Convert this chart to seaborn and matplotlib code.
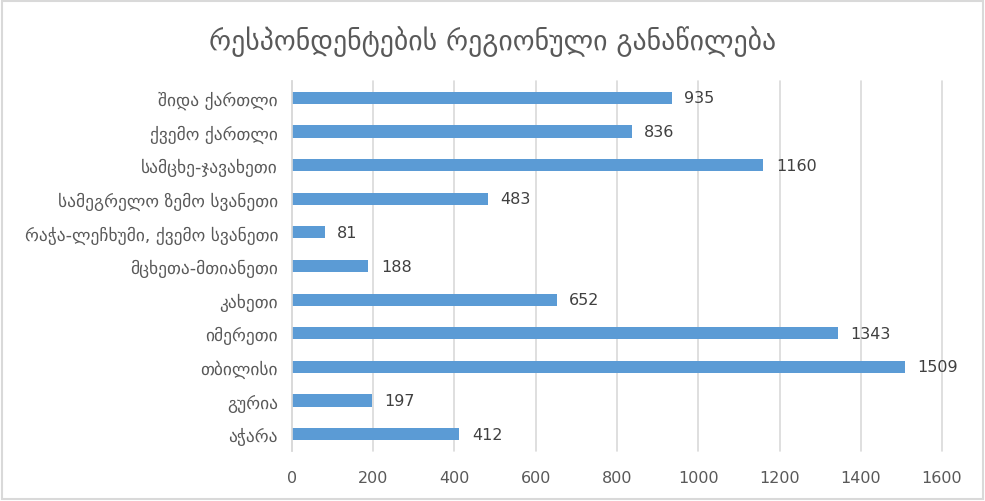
import matplotlib
matplotlib.use("Agg")
import matplotlib.pyplot as plt
import seaborn as sns
import pandas as pd

regions = ["შიდა ქართლი", "ქვემო ქართლი", "სამცხე-ჯავახეთი", "სამეგრელო ზემო სვანეთი",
           "რაჭა-ლეჩხუმი, ქვემო სვანეთი", "მცხეთა-მთიანეთი", "კახეთი", "იმერეთი",
           "თბილისი", "გურია", "აჭარა"]
counts = [935, 836, 1160, 483, 81, 188, 652, 1343, 1509, 197, 412]
xticks = [0, 200, 400, 600, 800, 1000, 1200, 1400, 1600]
title = "რესპონდენტების რეგიონული განაწილება"

sns.set_style("white")
plt.rcParams['font.family'] = ['DejaVu Sans']

df = pd.DataFrame({"region": regions, "count": counts})

fig = plt.figure(figsize=(9.85, 5.02), dpi=100)
ax = fig.add_axes([0.2964, 0.0996, 0.6600, 0.737])
sns.barplot(data=df, x="count", y="region", color="#5B9BD5", width=0.36, ax=ax,
            saturation=1, linewidth=0, edgecolor="none")

ax.set_xlim(0, 1600)
ax.set_xticks(xticks)
ax.set_xticklabels([str(t) for t in xticks])
ax.set_xlabel("")
ax.set_ylabel("")
ax.xaxis.grid(True, color="#D9D9D9", linewidth=1.2)
for gl in ax.get_xgridlines():
    gl.set_clip_on(False)
ax.set_axisbelow(True)
for s in ["top", "right", "bottom"]:
    ax.spines[s].set_visible(False)
ax.spines["left"].set_color("#D9D9D9")
ax.spines["left"].set_linewidth(1.2)
ax.tick_params(axis="y", length=0, labelsize=12.5, colors="#595959", pad=10)
ax.tick_params(axis="x", length=0, labelsize=11.5, colors="#595959", pad=14)

for i, v in enumerate(counts):
    ax.annotate(str(v), xy=(v, i), xytext=(9, 0), textcoords="offset points",
                va="center", ha="left", fontsize=11.5, color="#404040")

fig.text(0.5, 0.918, title, ha="center", va="center", fontsize=20, color="#595959")

border = plt.Rectangle((0.002, 0.003), 0.996, 0.994, transform=fig.transFigure,
                       fill=False, edgecolor="#D9D9D9", linewidth=1.5)
fig.patches.append(border)

fig.savefig("out.png", dpi=100)
